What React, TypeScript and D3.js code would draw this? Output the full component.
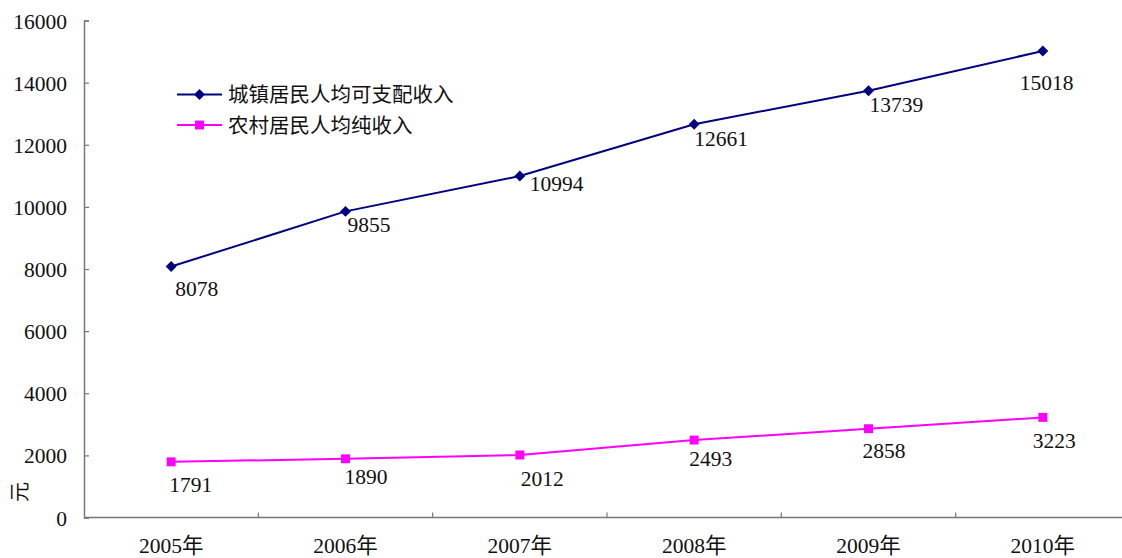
import React, { useEffect, useRef } from 'react';
import * as d3 from 'd3';

const years = ['2005年', '2006年', '2007年', '2008年', '2009年', '2010年'];
const urbanIncome = [8078, 9855, 10994, 12661, 13739, 15018];
const ruralIncome = [1791, 1890, 2012, 2493, 2858, 3223];
const seriesNames = ['城镇居民人均可支配收入', '农村居民人均纯收入'];
const yTicks = [0, 2000, 4000, 6000, 8000, 10000, 12000, 14000, 16000];

// hand-placed data label nudges (as in the original chart)
const urbanLabelShift = [[4, 29], [2, 21], [10, 15], [0, 22], [1, 21], [-23, 39]];
const ruralLabelShift = [[-2, 30], [-1, 25], [1, 31], [-5, 26], [-6, 29], [-10, 31]];

const FONT = "'Liberation Serif', 'Noto Sans CJK SC', serif";

export default function App() {
  const ref = useRef<SVGSVGElement>(null);

  useEffect(() => {
    const svg = d3.select(ref.current);
    svg.selectAll('*').remove();

    const width = 1122;
    const height = 558;
    const margin = { top: 20.5, left: 84, bottom: 40.5, right: -8 };
    const iwidth = width - margin.left - margin.right;
    const iheight = height - margin.top - margin.bottom;

    const g = svg.append('g').attr('transform', `translate(${margin.left},${margin.top})`);

    const x = d3.scaleBand().domain(years).range([0, iwidth]);
    const y = d3.scaleLinear().domain([0, 16000]).range([iheight, 0]);

    // y axis, ticks pointing inward
    const yAxis = g.append('g').call(
      d3.axisLeft(y).tickValues(yTicks).tickFormat(d3.format('d')).tickSize(-5).tickPadding(17)
    );
    yAxis.select('.domain').attr('stroke', '#777').attr('stroke-width', 1.5);
    yAxis.selectAll('.tick line').attr('stroke', '#777').attr('stroke-width', 1.2);
    yAxis.selectAll('text')
      .attr('font-family', FONT)
      .attr('font-size', 21.5)
      .attr('fill', '#111')
      .attr('dy', '0.35em');

    // x axis
    g.append('line')
      .attr('x1', 0).attr('x2', iwidth)
      .attr('y1', iheight).attr('y2', iheight)
      .attr('stroke', '#777').attr('stroke-width', 1.5);
    g.selectAll('.xtick')
      .data(years.slice(1))
      .enter()
      .append('line')
      .attr('x1', (d) => x(d)!)
      .attr('x2', (d) => x(d)!)
      .attr('y1', iheight)
      .attr('y2', iheight - 5)
      .attr('stroke', '#777')
      .attr('stroke-width', 1.2);
    g.selectAll('.xlabel')
      .data(years)
      .enter()
      .append('text')
      .attr('x', (d) => x(d)! + x.bandwidth() / 2)
      .attr('y', iheight + 35)
      .attr('text-anchor', 'middle')
      .attr('font-family', FONT)
      .attr('font-size', 21.5)
      .attr('fill', '#111')
      .text((d) => d);

    // y label
    svg.append('text')
      .attr('transform', `translate(27,492) rotate(-90)`)
      .attr('text-anchor', 'middle')
      .attr('font-family', FONT)
      .attr('font-size', 20)
      .attr('fill', '#111')
      .text('元');

    const cx = (i: number) => x(years[i])! + x.bandwidth() / 2;
    const line = d3.line<number>().x((_, i) => cx(i)).y((d) => y(d));

    const sq = d3.symbol().type(d3.symbolSquare);
    const diamond = () => sq.size(60)();
    const square = () => sq.size(80)();

    const series = [
      { values: urbanIncome, color: '#000080', symbol: diamond, rot: 45, shift: urbanLabelShift },
      { values: ruralIncome, color: '#FF00FF', symbol: square, rot: 0, shift: ruralLabelShift },
    ];

    series.forEach((s) => {
      g.append('path')
        .datum(s.values)
        .attr('d', line)
        .attr('fill', 'none')
        .attr('stroke', s.color)
        .attr('stroke-width', 2);
      g.selectAll(null)
        .data(s.values)
        .enter()
        .append('path')
        .attr('d', s.symbol)
        .attr('transform', (d, i) => `translate(${cx(i)},${y(d)}) rotate(${s.rot})`)
        .attr('fill', s.color);
      g.selectAll(null)
        .data(s.values)
        .enter()
        .append('text')
        .attr('x', (_, i) => cx(i) + s.shift[i][0])
        .attr('y', (d, i) => y(d) + s.shift[i][1])
        .attr('font-family', FONT)
        .attr('font-size', 21.5)
        .attr('fill', '#111')
        .text((d) => d);
    });

    // legend
    const legend = svg.append('g').attr('transform', 'translate(177,94.5)');
    series.forEach((s, i) => {
      const row = legend.append('g').attr('transform', `translate(0,${i * 30.5})`);
      row.append('line')
        .attr('x1', 0).attr('x2', 45)
        .attr('stroke', s.color).attr('stroke-width', 2);
      row.append('path')
        .attr('d', s.symbol)
        .attr('transform', `translate(22.5,0) rotate(${s.rot})`)
        .attr('fill', s.color);
      row.append('text')
        .attr('x', 51)
        .attr('y', 7.5)
        .attr('font-family', FONT)
        .attr('font-size', 20.5)
        .attr('fill', '#111')
        .text(seriesNames[i]);
    });
  }, []);

  return (
    <svg
      ref={ref}
      width={1122}
      height={558}
      style={{ position: 'absolute', left: 0, top: 0, background: '#fff' }}
    />
  );
}
